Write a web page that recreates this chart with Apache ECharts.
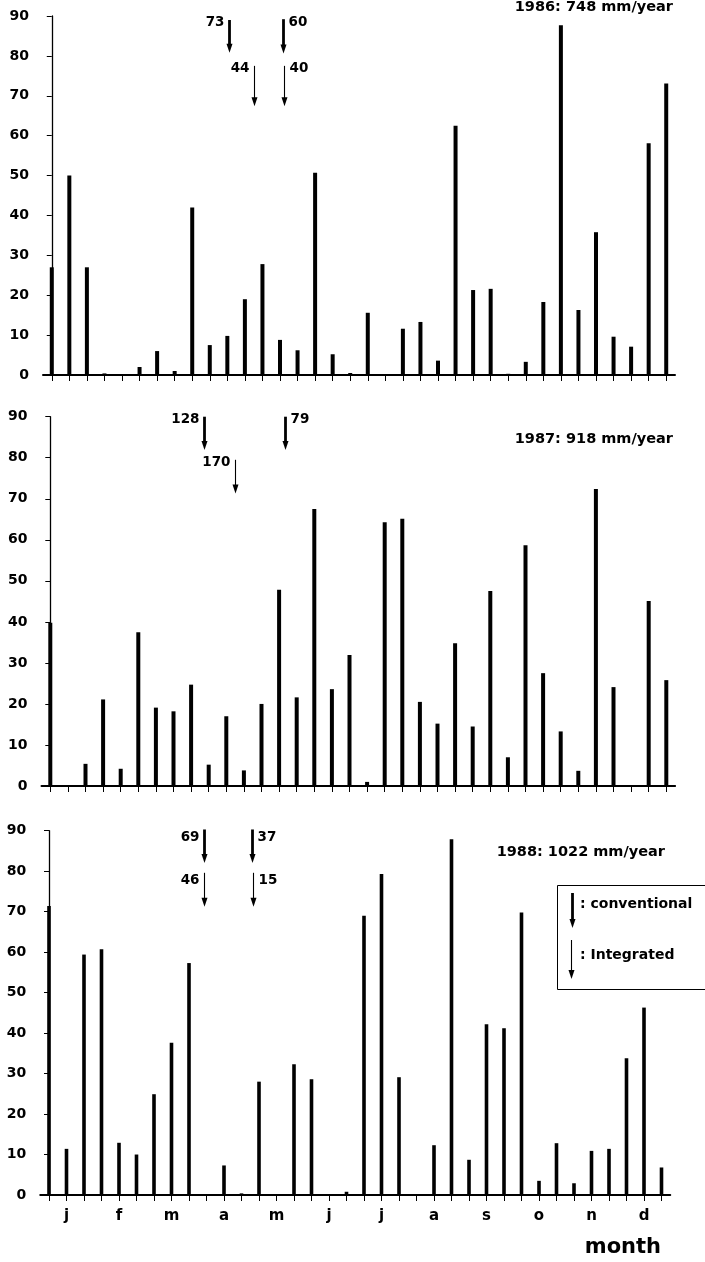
<!DOCTYPE html>
<html><head><meta charset="utf-8">
<script src="https://cdn.jsdelivr.net/npm/echarts@6/dist/echarts.min.js"></script>
<style>html,body{margin:0;padding:0;background:#fff}#c{width:705px;height:1262px}</style>
</head><body><div id="c"></div>
<script>
// ---- data ----
const months = ['j','f','m','a','m','j','j','a','s','o','n','d'];
const decades = [1, 2, 3];
const categories = [];
months.forEach((m, mi) => decades.forEach(d => categories.push(mi + '-' + d)));

const yMin = 0, yMax = 90, yStep = 10;

const years = ['1986', '1987', '1988'];
const annualTotals = ['748', '918', '1022'];

const rain1986 = [27,50,27,0.4,0,2,6,1,42,7.5,9.8,19,27.8,8.8,6.2,50.7,5.2,0.5,15.6,0,11.6,13.3,3.6,62.5,21.3,21.6,0.3,3.3,18.3,87.7,16.3,35.8,9.6,7.1,58.1,73.1];
const rain1987 = [39.8,0,5.4,21.1,4.2,37.5,19.1,18.2,24.7,5.2,17,3.8,20,47.8,21.6,67.5,23.6,31.9,1,64.3,65.1,20.5,15.2,34.8,14.5,47.5,7,58.7,27.5,13.3,3.7,72.4,24.1,0,45.1,25.8];
const rain1988 = [71.4,11.4,59.4,60.7,12.9,10,24.9,37.6,57.3,0,7.3,0.4,28,0,32.3,28.6,0,0.8,69,79.3,29.1,0,12.3,87.9,8.7,42.2,41.2,69.8,3.5,12.8,2.9,10.9,11.4,33.8,46.3,6.8];

// irrigation arrows: position in decade index, top/bottom in mm, amount label, label side
const arrows1986 = [
  {kind:'conventional', at:10.1,  from:89,   to:80.8, amount:'73',  side:'left'},
  {kind:'conventional', at:13.18, from:89.2, to:80.6, amount:'60',  side:'right'},
  {kind:'integrated',   at:11.53, from:77.5, to:67.4, amount:'44',  side:'left'},
  {kind:'integrated',   at:13.2,  from:77.5, to:67.4, amount:'40',  side:'right'}
];
const arrows1987 = [
  {kind:'conventional', at:8.71,  from:90,   to:81.9, amount:'128', side:'left'},
  {kind:'integrated',   at:10.51, from:79.5, to:71.3, amount:'170', side:'left'},
  {kind:'conventional', at:13.31, from:90,   to:81.9, amount:'79',  side:'right'}
];
const arrows1988 = [
  {kind:'conventional', at:8.87,  from:90.3, to:82.0, amount:'69', side:'left'},
  {kind:'integrated',   at:8.87,  from:79.6, to:71.2, amount:'46', side:'left'},
  {kind:'conventional', at:11.6,  from:90.3, to:82.0, amount:'37', side:'right'},
  {kind:'integrated',   at:11.63, from:79.6, to:71.2, amount:'15', side:'right'}
];

const rainByYear = [rain1986, rain1987, rain1988];
const arrowsByYear = [arrows1986, arrows1987, arrows1988];

// ---- layout / style ----
const FONT = '"DejaVu Sans", "Liberation Sans", Arial, sans-serif';
const grids = [
  {left: 43,    top: 16,    width: 632,   height: 359},
  {left: 41.5,  top: 416.7, width: 633.6, height: 369.3},
  {left: 40.25, top: 830.7, width: 630,   height: 364.3}
];
const barWidths = [4, 4, 3.6];
const labelDy = [3, 3, 8];

function arrowShapes(x, yTop, yBot, thick) {
  const headH = 9, headW = 6;
  return [
    {type: 'line', shape: {x1: x, y1: yTop, x2: x, y2: yBot - headH + 1},
     style: {stroke: '#000', lineWidth: thick ? 2.8 : 1.1}},
    {type: 'polygon', shape: {points: [[x - headW / 2, yBot - headH], [x + headW / 2, yBot - headH], [x, yBot]]},
     style: {fill: '#000'}}
  ];
}

function makeArrowRenderer(list, panel) {
  return function (params, api) {
    const a = list[params.dataIndex];
    const p1 = api.coord([api.value(0), api.value(1)]);
    const p2 = api.coord([api.value(0), api.value(2)]);
    const x = Math.round(p1[0]) + 0.5;
    const children = arrowShapes(x, p1[1], p2[1], a.kind === 'conventional');
    children.push({
      type: 'text',
      style: {
        text: a.amount,
        x: a.side === 'left' ? x - 5 : x + 5,
        y: p1[1] + labelDy[panel],
        align: a.side === 'left' ? 'right' : 'left',
        verticalAlign: 'middle',
        font: 'bold 13.5px ' + FONT,
        fill: '#000'
      }
    });
    return {type: 'group', children};
  };
}

const xAxes = [], yAxes = [], series = [];
for (let i = 0; i < 3; i++) {
  xAxes.push({
    type: 'category', gridIndex: i, data: categories, boundaryGap: true,
    axisLine: {show: true, lineStyle: {color: '#000', width: 2}},
    axisTick: {show: true, alignWithLabel: true, interval: 0, length: 6, lineStyle: {color: '#000', width: 1}},
    axisLabel: i === 2 ? {
      show: true, interval: 0, margin: 14, color: '#000',
      fontFamily: FONT, fontWeight: 'bold', fontSize: 15,
      formatter: (v, idx) => (idx % 3 === 1 ? months[Math.floor(idx / 3)] : '')
    } : {show: false, interval: 0},
    splitLine: {show: false}
  });
  xAxes.push({type: 'value', gridIndex: i, min: -0.5, max: categories.length - 0.5, show: false});
  yAxes.push({
    type: 'value', gridIndex: i, min: yMin, max: yMax, interval: yStep,
    axisLine: {show: true, lineStyle: {color: '#000', width: 1.3}},
    axisTick: {show: true, length: 5, lineStyle: {color: '#000', width: 1}},
    axisLabel: {color: '#000', fontFamily: FONT, fontWeight: 'bold', fontSize: 14, margin: 14},
    splitLine: {show: false}
  });
  series.push({
    type: 'bar', xAxisIndex: 2 * i, yAxisIndex: i, data: rainByYear[i],
    barWidth: barWidths[i], itemStyle: {color: '#000'}, silent: true, animation: false
  });
  const list = arrowsByYear[i];
  series.push({
    type: 'custom', xAxisIndex: 2 * i + 1, yAxisIndex: i,
    data: list.map(a => [a.at, a.from, a.to]),
    encode: {x: 0, y: [1, 2]},
    renderItem: makeArrowRenderer(list, i),
    clip: false, silent: true, animation: false
  });
}

const titleText = i => years[i] + ': ' + annualTotals[i] + ' mm/year';

const graphic = [
  {type: 'text', style: {text: titleText(0), x: 673, y: 7, align: 'right', verticalAlign: 'middle', font: 'bold 14.5px ' + FONT, fill: '#000'}},
  {type: 'text', style: {text: titleText(1), x: 673, y: 439, align: 'right', verticalAlign: 'middle', font: 'bold 14.5px ' + FONT, fill: '#000'}},
  {type: 'text', style: {text: titleText(2), x: 665, y: 852, align: 'right', verticalAlign: 'middle', font: 'bold 14.5px ' + FONT, fill: '#000'}},
  {type: 'text', style: {text: 'month', x: 661, y: 1248, align: 'right', verticalAlign: 'middle', font: 'bold 21px ' + FONT, fill: '#000'}},
  {type: 'rect', shape: {x: 557.5, y: 885.5, width: 160, height: 104}, style: {fill: 'none', stroke: '#000', lineWidth: 1}},
  {type: 'group', children: arrowShapes(572.5, 893, 928, true)},
  {type: 'group', children: arrowShapes(571.5, 940, 979, false)},
  {type: 'text', style: {text: ': conventional', x: 580, y: 904, align: 'left', verticalAlign: 'middle', font: 'bold 14px ' + FONT, fill: '#000'}},
  {type: 'text', style: {text: ': Integrated', x: 580, y: 955, align: 'left', verticalAlign: 'middle', font: 'bold 14px ' + FONT, fill: '#000'}}
];

const chart = echarts.init(document.getElementById('c'), null, {renderer: 'canvas'});
chart.setOption({
  animation: false,
  backgroundColor: '#fff',
  grid: grids.map(g => Object.assign({containLabel: false}, g)),
  xAxis: xAxes,
  yAxis: yAxes,
  series: series,
  graphic: graphic
});
</script>
</body></html>
